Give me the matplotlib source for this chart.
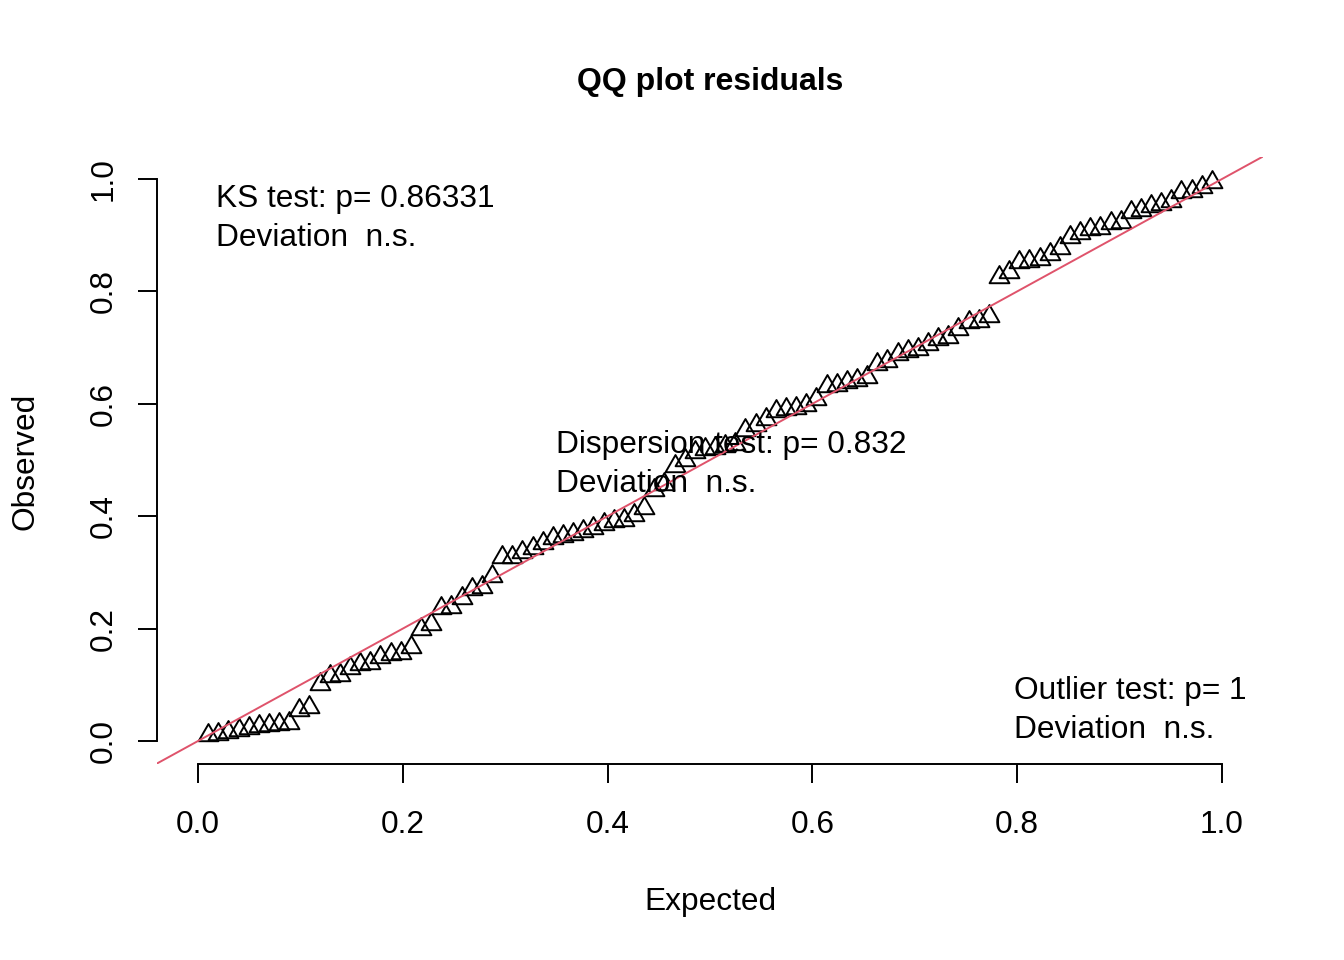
import numpy as np
import matplotlib
matplotlib.use('Agg')
import matplotlib.pyplot as plt
from matplotlib.path import Path

plt.rcParams['font.family'] = ['Liberation Sans', 'DejaVu Sans']

# sorted scaled residuals
observed = [
    0.010, 0.013, 0.016, 0.020, 0.023, 0.026, 0.028, 0.030, 0.032, 0.055,
    0.060, 0.101, 0.115, 0.118, 0.130, 0.137, 0.139, 0.150, 0.155, 0.157,
    0.168, 0.199, 0.208, 0.237, 0.239, 0.255, 0.270, 0.274, 0.293, 0.327,
    0.328, 0.337, 0.343, 0.352, 0.361, 0.364, 0.368, 0.373, 0.379, 0.386,
    0.391, 0.394, 0.403, 0.415, 0.447, 0.457, 0.489, 0.500, 0.514, 0.519,
    0.521, 0.525, 0.528, 0.554, 0.563, 0.573, 0.587, 0.590, 0.593, 0.597,
    0.608, 0.631, 0.634, 0.638, 0.643, 0.648, 0.670, 0.676, 0.688, 0.694,
    0.697, 0.706, 0.715, 0.718, 0.733, 0.745, 0.748, 0.756, 0.826, 0.834,
    0.853, 0.854, 0.857, 0.866, 0.877, 0.896, 0.903, 0.911, 0.913, 0.921,
    0.923, 0.941, 0.945, 0.952, 0.955, 0.961, 0.976, 0.979, 0.985, 0.994,
]
n = len(observed)
expected = np.arange(1, n + 1) / (n + 1)

ticks = [0.0, 0.2, 0.4, 0.6, 0.8, 1.0]
tick_labels = ['0.0', '0.2', '0.4', '0.6', '0.8', '1.0']

title = 'QQ plot residuals'
ks_text = ['KS test: p= 0.86331', 'Deviation  n.s.']
disp_text = ['Dispersion test: p= 0.832', 'Deviation  n.s.']
out_text = ['Outlier test: p= 1', 'Deviation  n.s.']

W, H = 1344, 960
fs = 22.8
fig = plt.figure(figsize=(W / 100, H / 100), dpi=100)
ax = fig.add_axes([157 / W, 1 - 763.5 / H, (1263 - 157) / W, (763.5 - 156.5) / H])

# R pch=2 triangle, centred on its centroid
tri = Path([(0, 1), (-0.866, -0.5), (0.866, -0.5), (0, 1)],
           [Path.MOVETO, Path.LINETO, Path.LINETO, Path.CLOSEPOLY])

ax.plot(expected, observed, linestyle='none', marker=tri, markersize=16.5,
        markerfacecolor='none', markeredgecolor='black', markeredgewidth=1.4)
ax.axline((0, 0), slope=1, color='#DF536B', lw=1.4)

ax.set_xlim(-0.04, 1.04)
ax.set_ylim(-0.04, 1.04)
for s in ['top', 'right']:
    ax.spines[s].set_visible(False)
ax.spines['left'].set_bounds(0, 1)
ax.spines['bottom'].set_bounds(0, 1)
for s in ['left', 'bottom']:
    ax.spines[s].set_linewidth(1.4)

ax.set_xticks(ticks)
ax.set_xticklabels(tick_labels)
ax.set_yticks(ticks)
ax.set_yticklabels(tick_labels)
ax.tick_params(length=13.7, width=1.4, labelsize=fs)
ax.tick_params(axis='x', pad=20)
ax.tick_params(axis='y', pad=14)
for lbl in ax.get_yticklabels():
    lbl.set_rotation(90)
    lbl.set_va('center')

# test results
def put(x, ys, lines):
    for yy, t in zip(ys, lines):
        ax.text(x, yy, t, fontsize=fs, ha='left', va='baseline')

def ypix(p):
    return (741 - p) / 562

put((216 - 198) / 1024, [ypix(207), ypix(246)], ks_text)
put((556 - 198) / 1024, [ypix(453), ypix(492)], disp_text)
put((1014 - 198) / 1024, [ypix(699), ypix(738)], out_text)

fig.text(710 / W, 1 - 90 / H, title, fontsize=23, fontweight='bold',
         ha='center', va='baseline')
fig.text(710 / W, 1 - 910 / H, 'Expected', fontsize=fs, ha='center', va='baseline')
fig.text(41 / W, 1 - 461 / H, 'Observed', fontsize=fs, rotation=90,
         ha='right', va='center')

fig.savefig('out.png', dpi=100)
